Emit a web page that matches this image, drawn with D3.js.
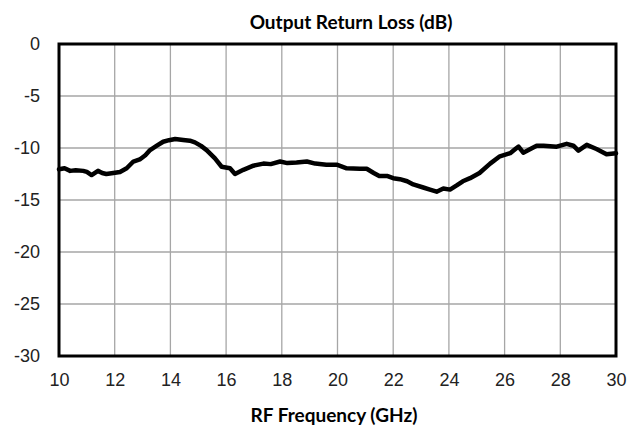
<!DOCTYPE html>
<html>
<head>
<meta charset="utf-8">
<script src="https://cdn.jsdelivr.net/npm/d3@7"></script>
<style>
  body { margin: 0; background: #fff; }
  svg { font-family: Lato, "Open Sans", sans-serif; }
  .grid line { stroke: #a6a6a6; stroke-width: 1.3; }
  .tick text { fill: #222; }
</style>
</head>
<body>
<div id="chart"></div>
<script>
// frequency points (GHz)
const freqs = [10.0, 10.2, 10.4, 10.6, 10.87, 11.0, 11.17, 11.4, 11.55, 11.7, 11.95, 12.19, 12.43,
  12.67, 12.9, 13.1, 13.27, 13.5, 13.74, 13.95, 14.17, 14.46, 14.7, 14.88, 15.1, 15.3, 15.6, 15.84,
  16.14, 16.32, 16.62, 16.98, 17.34, 17.6, 17.94, 18.2, 18.53, 18.9, 19.2, 19.6, 19.97, 20.33, 20.8,
  21.05, 21.3, 21.5, 21.8, 22.0, 22.24, 22.5, 22.72, 23.08, 23.32, 23.56, 23.8, 24.04, 24.28, 24.5,
  24.76, 25.1, 25.48, 25.83, 26.2, 26.43, 26.5, 26.67, 27.15, 27.4, 27.87, 28.23, 28.47, 28.65,
  28.95, 29.3, 29.42, 29.66, 30.0];
// output return loss (dB)
const lossDb = [-12.05, -11.95, -12.2, -12.15, -12.2, -12.3, -12.6, -12.2, -12.4, -12.5, -12.4, -12.3, -11.95,
  -11.3, -11.1, -10.7, -10.2, -9.8, -9.4, -9.25, -9.13, -9.23, -9.3, -9.46, -9.8, -10.2, -11.0, -11.8,
  -11.95, -12.5, -12.1, -11.7, -11.5, -11.55, -11.3, -11.45, -11.4, -11.3, -11.5, -11.6, -11.6, -11.95, -12.0,
  -12.0, -12.4, -12.7, -12.7, -12.9, -13.0, -13.2, -13.5, -13.8, -14.0, -14.2, -13.9, -14.0, -13.6, -13.2,
  -12.9, -12.4, -11.5, -10.8, -10.5, -10.0, -9.87, -10.45, -9.78, -9.78, -9.87, -9.6, -9.78, -10.26, -9.7,
  -10.1, -10.26, -10.6, -10.5, -10.9];
const xTicks = [10, 12, 14, 16, 18, 20, 22, 24, 26, 28, 30];
const yTicks = [0, -5, -10, -15, -20, -25, -30];

const width = 644, height = 428;
const margin = {left: 59, right: 28, top: 44, bottom: 72};

const svg = d3.select("#chart").append("svg")
  .attr("width", width)
  .attr("height", height);

const x = d3.scaleLinear().domain([10, 30]).range([margin.left, width - margin.right]);
const y = d3.scaleLinear().domain([-30, 0]).range([height - margin.bottom, margin.top]);

// grid
const grid = svg.append("g").attr("class", "grid");
grid.selectAll(".gx").data(xTicks.slice(1, -1)).enter().append("line")
  .attr("x1", d => x(d)).attr("x2", d => x(d))
  .attr("y1", y(0)).attr("y2", y(-30));
grid.selectAll(".gy").data(yTicks.slice(1, -1)).enter().append("line")
  .attr("x1", x(10)).attr("x2", x(30))
  .attr("y1", d => y(d)).attr("y2", d => y(d));

// axes (labels only, frame drawn separately)
const xAxis = d3.axisBottom(x).tickValues(xTicks).tickSize(0).tickPadding(17).tickFormat(d3.format("d"));
svg.append("g")
  .attr("transform", "translate(0," + y(-30) + ")")
  .call(xAxis)
  .call(g => g.select(".domain").remove())
  .selectAll("text").style("font-size", "18px");

const yAxis = d3.axisLeft(y).tickValues(yTicks).tickSize(0).tickPadding(19).tickFormat(d => d);
svg.append("g")
  .attr("transform", "translate(" + x(10) + ",0)")
  .call(yAxis)
  .call(g => g.select(".domain").remove())
  .selectAll("text").style("font-size", "18px");

// curve
const line = d3.line()
  .x((d, i) => x(freqs[i]))
  .y(d => y(d));
svg.append("path")
  .datum(lossDb)
  .attr("d", line)
  .attr("fill", "none")
  .attr("stroke", "#000")
  .attr("stroke-width", 4.5)
  .attr("stroke-linejoin", "round")
  .attr("stroke-linecap", "round");

// plot frame
svg.append("rect")
  .attr("x", x(10)).attr("y", y(0))
  .attr("width", x(30) - x(10)).attr("height", y(-30) - y(0))
  .attr("fill", "none")
  .attr("stroke", "#000")
  .attr("stroke-width", 3);

// titles
svg.append("text")
  .attr("x", 351).attr("y", 29)
  .attr("text-anchor", "middle")
  .style("font-size", "19px")
  .style("font-weight", "bold")
  .text("Output Return Loss (dB)");
svg.append("text")
  .attr("x", 334).attr("y", 422)
  .attr("text-anchor", "middle")
  .style("font-size", "19px")
  .style("font-weight", "bold")
  .text("RF Frequency (GHz)");
</script>
</body>
</html>
